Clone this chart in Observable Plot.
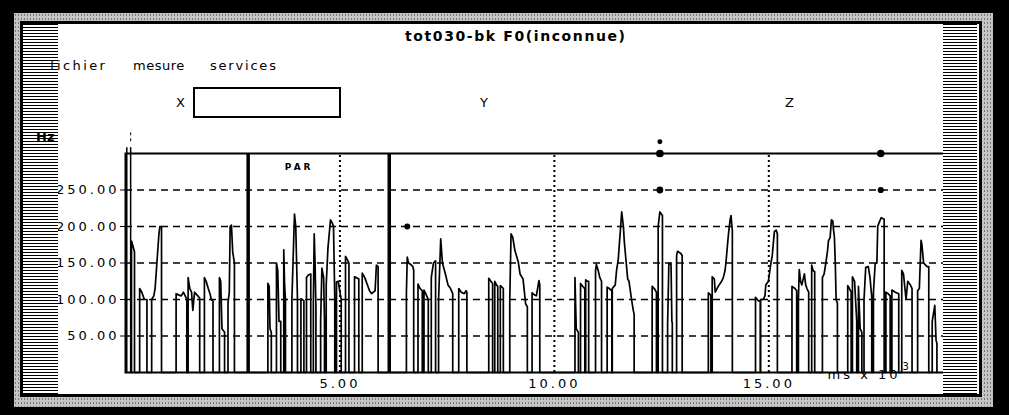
<!DOCTYPE html>
<html>
<head>
<meta charset="utf-8">
<script src="https://cdn.jsdelivr.net/npm/d3@7"></script>
<script src="https://cdn.jsdelivr.net/npm/@observablehq/plot@0.6"></script>
<style>
  html, body { margin: 0; padding: 0; background: #000; }
  #page { position: relative; width: 1009px; height: 415px; background: #000; overflow: hidden; font-family: "DejaVu Sans", sans-serif; color: #000; }
  .speckle { position: absolute; left: 14px; top: 13px; width: 979px; height: 394px;
    background: #c4c4c4 radial-gradient(#7a7a7a 0.7px, transparent 1px) 0 0 / 3px 4px; }
  .panel { position: absolute; left: 20px; top: 21px; width: 956px; height: 370px; background: #fff; border: 3px solid #000; }
  .stripes { position: absolute; top: 24px; height: 370px;
    background: repeating-linear-gradient(to bottom, #000 0 1.5px, #fff 1.5px 3px); }
  .txt { position: absolute; white-space: pre; line-height: 1; }
  #chart { position: absolute; left: 0; top: 120px; }
  #chart svg text { letter-spacing: 3px; }
</style>
</head>
<body>
<div id="page">
  <div class="speckle"></div>
  <div class="panel"></div>
  <div id="chart"></div>
  <div class="stripes" style="left:23px;width:35px"></div>
  <div class="stripes" style="left:943px;width:34px"></div>
  <div class="txt" style="left:405px;top:29px;font-size:14px;font-weight:bold;letter-spacing:1.6px">tot030-bk F0(inconnue)</div>
  <div class="txt" style="left:50px;top:59px;font-size:13px;letter-spacing:2.4px">fichier</div>
  <div class="txt" style="left:133px;top:59px;font-size:13px;letter-spacing:0.5px">mesure</div>
  <div class="txt" style="left:210px;top:59px;font-size:13px;letter-spacing:1.8px">services</div>
  <div class="txt" style="left:176px;top:96px;font-size:13px">X</div>
  <div style="position:absolute;left:193px;top:87px;width:144px;height:27px;border:2px solid #000;background:#fff"></div>
  <div class="txt" style="left:480px;top:96px;font-size:13px">Y</div>
  <div class="txt" style="left:785px;top:96px;font-size:13px">Z</div>
  <div class="txt" style="left:36px;top:130px;font-size:13px;font-weight:bold">Hz</div>
</div>
<script>
// F0 contour (x in ms × 10³, y in Hz), one array per voiced stretch
const segments = [
  [[0.14,180],[0.18,172],[0.21,165]],
  [[0.33,115],[0.38,110],[0.44,100],[0.50,100]],
  [[0.61,100],[0.66,105],[0.69,115],[0.72,140],[0.75,165],[0.78,190],[0.80,200],[0.84,200]],
  [[1.18,108],[1.25,106],[1.30,105],[1.35,110],[1.40,104],[1.43,100]],
  [[1.46,130],[1.50,115],[1.54,110],[1.57,85],[1.61,110],[1.67,106],[1.73,102]],
  [[1.84,130],[1.88,125],[1.93,115],[1.97,108],[2.00,100],[2.04,98]],
  [[2.19,130],[2.22,125],[2.25,60],[2.31,55]],
  [[2.39,95],[2.42,110],[2.44,200],[2.47,202],[2.50,165],[2.54,150]],
  [[3.32,122],[3.35,118],[3.37,60],[3.40,55]],
  [[3.52,150],[3.55,140],[3.58,70],[3.62,70]],
  [[3.69,168],[3.71,120],[3.73,100]],
  [[3.88,100],[3.94,217],[3.97,200],[3.99,150],[4.01,100]],
  [[4.09,101],[4.12,100],[4.16,98]],
  [[4.22,130],[4.27,134],[4.32,135]],
  [[4.38,95],[4.40,190],[4.42,150],[4.44,90]],
  [[4.55,70],[4.58,143],[4.62,130],[4.64,70]],
  [[4.68,120],[4.72,170],[4.78,209],[4.82,205],[4.85,200],[4.88,100]],
  [[4.92,124],[4.96,125],[5.00,110],[5.03,100]],
  [[5.13,159],[5.17,155],[5.21,150]],
  [[5.34,131],[5.38,130],[5.44,128]],
  [[5.52,136],[5.58,130],[5.64,120],[5.69,112],[5.74,108],[5.78,110],[5.82,112],[5.85,147],[5.89,145]],
  [[6.55,110],[6.57,158],[6.60,150],[6.65,148],[6.70,145],[6.72,140]],
  [[6.82,121],[6.87,115],[6.92,112]],
  [[6.96,113],[7.00,108],[7.06,100]],
  [[7.13,130],[7.18,150],[7.23,153]],
  [[7.30,100],[7.35,183],[7.39,150],[7.45,137],[7.52,120],[7.58,115],[7.63,108]],
  [[7.77,115],[7.83,110],[7.90,108],[7.94,112],[7.96,110]],
  [[8.47,129],[8.52,125],[8.56,122]],
  [[8.61,125],[8.65,120],[8.68,118]],
  [[8.74,119],[8.78,117],[8.81,115]],
  [[8.96,100],[8.99,190],[9.03,185],[9.08,167],[9.16,151],[9.20,135],[9.27,128],[9.33,94],[9.37,90]],
  [[9.48,109],[9.52,107],[9.58,105],[9.64,126],[9.66,120]],
  [[10.48,130],[10.51,60],[10.56,55]],
  [[10.61,122],[10.66,118],[10.71,115]],
  [[10.73,127],[10.77,125],[10.80,125]],
  [[10.96,140],[10.98,148],[11.02,140],[11.06,130],[11.10,125]],
  [[11.23,117],[11.28,115],[11.34,112]],
  [[11.35,115],[11.42,120],[11.45,140],[11.49,155],[11.52,180],[11.54,195],[11.57,220],[11.61,200],[11.63,180],[11.66,160],[11.71,128],[11.74,125],[11.80,100],[11.84,85],[11.86,80]],
  [[12.28,118],[12.33,115],[12.38,110]],
  [[12.42,200],[12.46,220],[12.52,215]],
  [[12.64,65],[12.67,150],[12.72,148],[12.74,70],[12.75,68]],
  [[12.85,160],[12.87,166],[12.95,163],[12.98,160]],
  [[13.59,109],[13.62,108],[13.65,105]],
  [[13.68,131],[13.73,128],[13.75,110],[13.82,118],[13.90,125],[13.94,130],[13.98,140],[14.00,150],[14.03,170],[14.06,190],[14.10,210],[14.12,215],[14.14,200],[14.15,195]],
  [[14.69,103],[14.76,98],[14.80,98]],
  [[14.81,100],[14.87,100],[14.91,105],[14.93,120],[14.99,125],[15.05,150],[15.08,160],[15.13,193],[15.17,195],[15.20,190]],
  [[15.54,118],[15.61,115],[15.65,112]],
  [[15.69,100],[15.71,141],[15.74,125],[15.77,120],[15.83,135],[15.86,120],[15.89,115],[15.93,110]],
  [[16.00,147],[16.03,140],[16.07,138]],
  [[16.25,130],[16.29,135],[16.33,150],[16.37,167],[16.39,180],[16.43,185],[16.46,209],[16.49,208],[16.51,195],[16.53,185],[16.55,150],[16.57,100],[16.60,95]],
  [[16.84,119],[16.88,115],[16.92,110]],
  [[16.95,131],[17.00,125],[17.05,70]],
  [[17.09,118],[17.13,60],[17.17,55]],
  [[17.22,100],[17.26,144],[17.32,145],[17.36,130],[17.39,110],[17.40,105]],
  [[17.44,110],[17.48,149],[17.52,150],[17.54,200],[17.57,205],[17.62,212],[17.69,210]],
  [[17.73,110],[17.78,108],[17.83,105]],
  [[17.87,113],[17.95,110],[18.03,108]],
  [[18.10,140],[18.14,135],[18.20,100],[18.24,125],[18.30,120],[18.34,115]],
  [[18.47,112],[18.51,115],[18.55,181],[18.57,175],[18.61,150],[18.69,145],[18.73,145]],
  [[18.81,70],[18.87,92],[18.90,44],[18.92,40]]
];
const hzTicks = [50, 100, 150, 200, 250];
const msTicks = [5, 10, 15];
const parBounds = [2.86, 6.15];           // thick selection bars
const cursorX = [0.03, 0.12];             // cursor double line
const cursorTop = 308, cursorMarkTop = 330, cursorMarkBottom = 316;
const markerT = [6.57, 12.46, 12.46, 12.46, 17.61, 17.61];
const markerHz = [200, 300, 250, 316, 300, 250];
const markerR = [1, 1.7, 1.3, 0.7, 1.6, 1.1];
const annotations = [{t: 4.05, hz: 281, text: "PAR"}];
const xDomain = [0, 19.12], yDomain = [0, 300];

const points = [];
segments.forEach(seg => {
  points.push({t: seg[0][0], f0: 0});
  seg.forEach(([t, f]) => points.push({t, f0: f}));
  points.push({t: seg[seg.length - 1][0], f0: 0});
});
const markers = markerT.map((t, i) => ({t, hz: markerHz[i], r: markerR[i]}));

const chart = Plot.plot({
  width: 1009, height: 280,
  marginLeft: 125, marginRight: 64, marginTop: 33, marginBottom: 28,
  style: {fontFamily: "DejaVu Sans", fontSize: "13px", color: "#000", background: "transparent", overflow: "visible"},
  x: {domain: xDomain},
  y: {domain: yDomain},
  marks: [
    Plot.ruleY(hzTicks, {stroke: "#000", strokeWidth: 1.6, strokeDasharray: "7,5"}),
    Plot.ruleX(msTicks, {y1: yDomain[0], y2: yDomain[1], stroke: "#000", strokeWidth: 2, strokeDasharray: "2,3"}),
    Plot.line(points, {x: "t", y: "f0", stroke: "#000", strokeWidth: 1.7}),
    Plot.ruleX(cursorX, {y1: 0, y2: cursorTop, stroke: "#000", strokeWidth: 1.5}),
    Plot.ruleX([cursorX[1]], {y1: cursorMarkBottom, y2: cursorMarkTop, stroke: "#000", strokeWidth: 1, strokeDasharray: "3,3"}),
    Plot.ruleX(parBounds, {y1: yDomain[0], y2: yDomain[1], stroke: "#000", strokeWidth: 3.5}),
    Plot.frame({stroke: "#000", strokeWidth: 2}),
    Plot.dot(markers, {x: "t", y: "hz", r: "r", fill: "#000", stroke: null}),
    Plot.text(annotations, {x: "t", y: "hz", text: "text", fontSize: 9, fontWeight: "bold", fill: "#000"}),
    Plot.axisY(hzTicks, {tickFormat: d3.format(".2f"), tickSize: 5, tickPadding: 1, fontSize: 13, label: null, stroke: "#000", color: "#000"}),
    Plot.axisX(msTicks, {tickFormat: d3.format(".2f"), tickSize: 0, tickPadding: 6, fontSize: 13, label: null}),
    Plot.text(["ms x 10"], {frameAnchor: "bottom-right", dx: -45, dy: 6, textAnchor: "end", fontSize: 13, fill: "#000"}),
    Plot.text(["3"], {frameAnchor: "bottom-right", dx: -43, dy: -3, textAnchor: "start", fontSize: 10, fill: "#000"})
  ]
});
document.getElementById("chart").appendChild(chart);
</script>
</body>
</html>
